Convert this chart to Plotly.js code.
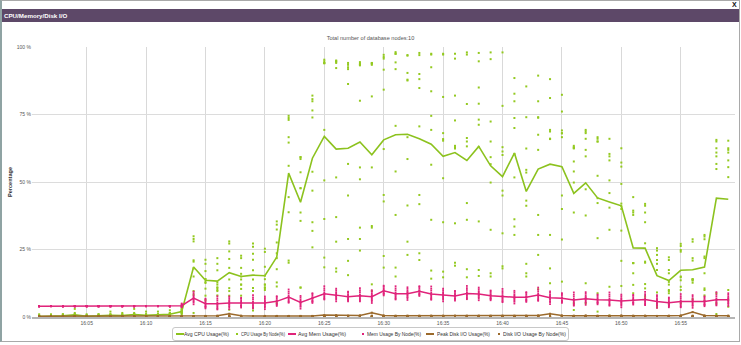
<!DOCTYPE html>
<html><head><meta charset="utf-8">
<script src="https://cdn.plot.ly/plotly-3.0.1.min.js"></script>
<style>
html,body{margin:0;padding:0;background:#fff;width:741px;height:345px;overflow:hidden;font-family:"Liberation Sans",Arial,sans-serif;}
#frame{position:absolute;left:0;top:0;width:737px;height:340px;border:1px solid #a9a9a9;border-left:2px solid #8fa3a3;}
#header{position:absolute;left:2px;top:9px;width:737px;height:13px;background:#5d4868;color:#fff;font-weight:bold;font-size:6.2px;line-height:13px;padding-left:2px;box-sizing:border-box;}
#close{position:absolute;left:732px;top:1px;font-size:7px;font-weight:bold;color:#111;}
#chart{position:absolute;left:0;top:0;width:741px;height:345px;}
#legend{position:absolute;left:172px;top:327px;width:397px;height:14px;border:1px solid #c8c8c8;border-radius:3px;box-sizing:border-box;background:#fff;}
.lt{position:absolute;top:0;font-size:5.4px;line-height:12px;color:#333;white-space:nowrap;transform-origin:0 50%;}
.ll{position:absolute;top:5px;height:2px;width:8px;}
.ld{position:absolute;top:5px;width:2px;height:2px;}
</style></head>
<body>
<div id="frame"></div>
<div id="header">CPU/Memory/Disk I/O</div>
<div id="close">X</div>
<div id="chart"></div>
<div id="legend"></div>
<script>
const times = ["16:01","16:02","16:03","16:04","16:05","16:06","16:07","16:08","16:09","16:10",
"16:11","16:12","16:13","16:14","16:15","16:16","16:17","16:18","16:19","16:20",
"16:21","16:22","16:23","16:24","16:25","16:26","16:27","16:28","16:29","16:30",
"16:31","16:32","16:33","16:34","16:35","16:36","16:37","16:38","16:39","16:40",
"16:41","16:42","16:43","16:44","16:45","16:46","16:47","16:48","16:49","16:50",
"16:51","16:52","16:53","16:54","16:55","16:56","16:57","16:58","16:59"];

const cpuAvg = [0.2,0.3,0.4,0.8,0.3,0.4,0.6,0.5,0.9,0.6,0.7,1.0,2.0,18.5,13.6,13.3,16.4,15.0,15.5,15.3,
22.2,53.3,42.5,58.8,66.9,62.2,62.5,64.8,60.1,65.6,67.5,67.7,66.0,64.0,59.5,60.9,58.0,63.2,56.0,52.0,
60.7,46.5,54.8,56.6,55.7,45.8,49.7,44.1,42.6,41.2,25.6,25.5,15.3,13.5,17.3,17.5,18.5,44.0,43.6];

const memAvg = [4.0,4.0,4.0,4.0,4.0,4.0,4.0,4.0,4.0,4.0,4.0,4.0,4.2,7.0,4.9,4.9,5.2,5.2,5.3,5.2,
5.8,7.4,5.4,6.9,8.6,8.1,7.5,7.9,7.5,9.7,8.6,8.6,9.5,8.5,8.1,7.8,8.7,8.5,7.9,7.6,
7.3,7.3,8.1,7.1,6.9,6.3,6.8,6.4,6.3,5.9,6.3,6.5,5.7,5.3,5.7,5.7,5.7,6.4,6.4];

const diskPeak = [0.3,0.3,0.3,0.4,0.3,0.3,0.3,0.3,0.3,0.3,0.3,0.3,0.3,0.4,0.4,0.5,1.2,0.5,0.4,0.4,
0.4,0.4,0.4,0.4,0.7,0.7,0.5,0.6,1.6,0.6,0.5,0.5,0.5,0.5,0.5,0.5,0.5,0.5,0.5,0.5,
0.5,0.5,0.6,1.2,0.6,0.5,0.6,0.5,0.5,0.6,0.5,0.5,0.4,0.5,0.6,1.8,0.6,0.5,0.5];

const cpuByNode = [
[0,0,0,0,0,0,0,0.5,0.5,1],
[0,0,0,0,0,0.5,0.5,0.5,0.5,1],
[0,0,0,0,0.5,0.5,0.5,0.5,1,1],
[0,0,0,0.5,0.5,0.5,1,1,1.5,3],
[0,0,0,0,0,0.5,0.5,0.5,0.5,1],
[0,0,0,0,0.5,0.5,0.5,0.5,1,1],
[0,0,0,0.5,0.5,0.5,0.5,1,1,2],
[0,0,0,0.5,0.5,0.5,0.5,0.5,1,1.5],
[0,0,0.5,0.5,0.5,1,1,1,1.5,3],
[0,0,0,0.5,0.5,0.5,0.5,1,1,2],
[0,0,0.5,0.5,0.5,0.5,1,1,1,2],
[0,0.5,0.5,0.5,1,1,1,1.5,1.5,2.5],
[0.5,1,1.5,1.5,2,2,2.5,2.5,3,3.5],
[29.9,28.9,28.0,21.0,20.5,18.0,15.0,9.6,8.3,1.5],
[21.2,19.7,17.0,14.0,14.0,13.0,12.6,10.5,7.9,6.2],
[21.8,19.7,17.3,12.8,12.0,11.0,10.7,10.0,9.6,8.0],
[28.0,27.2,24.3,21.5,18.2,13.9,10.7,9.6,7.9,2.7],
[22.7,21.8,18.2,16.0,15.0,13.9,12.0,12.0,10.4,7.9],
[27.2,26.0,23.4,21.2,17.3,13.9,10.7,9.6,3.3,2.4],
[25.3,24.1,18.6,15.3,14.0,12.0,12.0,11.0,10.7,10.0],
[35.4,34.2,32.4,27.6,23.6,21.8,17.7,12.8,11.3,5.2],
[74.5,73.7,73.0,66.6,64.6,56.0,44.4,38.8,20.9,20.1],
[59.2,59.2,58.5,53.6,47.7,47.7,38.7,35.6,10.9,10.9],
[82.0,80.7,79.9,76.5,73.9,53.8,46.8,35.1,31.9,25.8],
[95.3,94.7,94.1,94.0,94.0,69.3,50.6,36.3,22.0,18.4],
[95.0,94.7,94.6,94.1,92.2,51.7,37.0,27.9,18.0,16.8],
[94.1,93.4,92.5,91.8,86.3,56.7,45.0,28.9,20.8,15.5],
[94.4,93.8,93.5,93.2,80.1,55.4,51.0,33.1,28.9,24.6],
[94.1,94.0,93.8,93.4,81.7,55.4,33.7,33.1,12.1,9.7],
[97.1,96.3,95.7,91.6,84.2,62.2,45.2,42.8,22.6,18.3],
[98.1,97.5,97.5,94.3,91.8,70.8,53.9,37.8,18.3,15.0],
[97.0,96.8,90.4,87.9,87.6,66.6,58.5,41.3,27.9,23.0],
[97.8,97.0,90.0,88.1,84.8,70.6,45.2,41.8,23.6,21.1],
[97.5,97.2,92.5,83.6,74.5,69.3,56.4,36.0,17.2,14.2],
[97.5,97.2,81.5,68.1,65.9,65.3,51.4,35.1,16.8,14.7],
[97.5,95.7,82.0,72.8,63.4,62.9,62.4,34.7,20.1,19.0],
[98.0,97.2,78.9,66.3,65.0,63.2,42.2,36.0,17.7,14.7],
[97.8,94.7,85.0,79.0,73.1,71.2,62.9,35.4,17.4,15.2],
[98.0,95.5,72.4,65.0,59.2,56.6,49.8,32.3,16.2,15.0],
[98.0,78.2,62.9,61.3,60.0,46.8,45.0,31.0,18.8,18.0],
[88.5,82.7,79.9,73.7,70.0,60.4,51.7,36.2,33.5,30.4],
[85.4,74.0,62.4,54.5,53.5,43.1,41.2,19.7,16.2,15.0],
[89.4,79.9,74.0,73.8,67.5,61.9,37.8,30.4,23.0,10.3],
[88.1,81.1,69.3,68.7,66.0,66.0,65.9,30.4,18.0,12.5],
[82.3,76.1,69.1,68.1,68.0,66.6,45.0,40.0,28.7,13.1],
[63.4,62.9,62.5,62.5,57.6,53.9,49.8,38.7,5.1,2.6],
[69.3,68.7,68.1,66.0,61.9,59.5,47.3,37.6,12.5,5.1],
[66.6,66.0,65.0,65.0,52.3,44.0,42.2,29.2,8.8,2.0],
[66.0,60.4,59.5,58.0,50.6,45.9,40.5,32.3,11.2,0.5],
[62.5,57.2,55.7,49.3,42.0,41.0,40.0,32.0,20.8,11.5],
[44.4,39.4,38.7,37.8,20.0,20.0,19.9,16.2,11.9,8.8],
[41.9,41.2,38.7,35.1,27.3,20.5,20.1,12.2,10.6,7.5],
[25.5,24.6,23.0,21.1,19.7,17.4,9.1,5.1,4.0,3.5],
[22.1,21.1,17.4,16.2,13.0,12.0,10.0,9.6,8.8,4.8],
[27.1,26.3,24.8,24.2,15.0,14.7,13.6,11.2,10.0,5.1],
[28.8,27.9,21.8,20.9,14.0,14.0,13.8,13.5,12.7,6.6],
[30.4,29.8,28.8,22.4,21.8,16.2,10.6,10.0,8.0,6.0],
[65.6,65.0,62.5,60.9,59.5,56.7,54.8,8.8,5.1,1.1],
[65.3,62.5,61.9,60.9,58.0,55.5,51.8,10.0,6.3,3.8]];

const memByNode = [
[4.1,4.0,4.0,4.0,4.0,4.0,4.0,4.0,3.9,3.9],
[4.1,4.0,4.0,4.0,4.0,4.0,4.0,4.0,3.9,3.9],
[4.1,4.0,4.0,4.0,4.0,4.0,4.0,4.0,3.9,3.9],
[4.1,4.0,4.0,4.0,4.0,4.0,4.0,4.0,3.9,3.9],
[4.1,4.0,4.0,4.0,4.0,4.0,4.0,4.0,3.9,3.9],
[4.1,4.0,4.0,4.0,4.0,4.0,4.0,4.0,3.9,3.9],
[4.1,4.0,4.0,4.0,4.0,4.0,4.0,4.0,3.9,3.9],
[4.1,4.0,4.0,4.0,4.0,4.0,4.0,4.0,3.9,3.9],
[4.1,4.0,4.0,4.0,4.0,4.0,4.0,4.0,3.9,3.9],
[4.1,4.0,4.0,4.0,4.0,4.0,4.0,4.0,3.9,3.9],
[4.1,4.0,4.0,4.0,4.0,4.0,4.0,4.0,3.9,3.9],
[4.1,4.0,4.0,4.0,4.0,4.0,4.0,4.0,3.9,3.9],
[5.0,4.8,4.5,4.3,4.2,4.1,4.0,3.8,3.7,3.6],
[9.4,8.8,8.1,7.6,7.2,6.7,6.3,5.8,5.4,4.7],
[6.8,6.5,5.9,5.3,5.0,4.7,4.1,3.9,3.6,3.2],
[7.7,6.9,6.2,5.4,4.9,4.5,4.0,3.5,3.1,2.8],
[7.6,7.0,6.3,5.8,5.4,4.9,4.5,4.0,3.6,2.9],
[7.1,6.8,6.2,5.6,5.3,5.0,4.4,4.2,3.9,3.5],
[8.1,7.3,6.6,5.8,5.3,4.9,4.4,3.9,3.5,3.2],
[7.6,7.0,6.3,5.8,5.4,4.9,4.5,4.0,3.6,2.9],
[7.7,7.4,6.8,6.2,5.9,5.6,5.0,4.8,4.5,4.1],
[10.2,9.4,8.7,7.9,7.4,7.0,6.5,6.0,5.6,5.3],
[7.8,7.2,6.5,6.0,5.6,5.1,4.7,4.2,3.8,3.1],
[8.8,8.5,7.9,7.3,7.0,6.7,6.1,5.9,5.6,5.2],
[11.4,10.6,9.9,9.1,8.6,8.2,7.7,7.2,6.8,6.5],
[10.5,9.9,9.2,8.7,8.3,7.8,7.4,6.9,6.5,5.8],
[9.4,9.1,8.5,7.9,7.6,7.3,6.7,6.5,6.2,5.8],
[10.7,9.9,9.2,8.4,7.9,7.5,7.0,6.5,6.1,5.8],
[9.9,9.3,8.6,8.1,7.7,7.2,6.8,6.3,5.9,5.2],
[11.6,11.3,10.7,10.1,9.8,9.5,8.9,8.7,8.4,8.0],
[11.4,10.6,9.9,9.1,8.6,8.2,7.7,7.2,6.8,6.5],
[11.0,10.4,9.7,9.2,8.8,8.3,7.9,7.4,7.0,6.3],
[11.4,11.1,10.5,9.9,9.6,9.3,8.7,8.5,8.2,7.8],
[11.3,10.5,9.8,9.0,8.5,8.1,7.6,7.1,6.7,6.4],
[10.5,9.9,9.2,8.7,8.3,7.8,7.4,6.9,6.5,5.8],
[9.7,9.4,8.8,8.2,7.9,7.6,7.0,6.8,6.5,6.1],
[11.5,10.7,10.0,9.2,8.7,8.3,7.8,7.3,6.9,6.6],
[10.9,10.3,9.6,9.1,8.7,8.2,7.8,7.3,6.9,6.2],
[9.8,9.5,8.9,8.3,8.0,7.7,7.1,6.9,6.6,6.2],
[10.4,9.6,8.9,8.1,7.6,7.2,6.7,6.2,5.8,5.5],
[9.7,9.1,8.4,7.9,7.5,7.0,6.6,6.1,5.7,5.0],
[9.2,8.9,8.3,7.7,7.4,7.1,6.5,6.3,6.0,5.6],
[10.9,10.1,9.4,8.6,8.1,7.7,7.2,6.7,6.3,6.0],
[9.5,8.9,8.2,7.7,7.3,6.8,6.4,5.9,5.5,4.8],
[8.8,8.5,7.9,7.3,7.0,6.7,6.1,5.9,5.6,5.2],
[9.1,8.3,7.6,6.8,6.3,5.9,5.4,4.9,4.5,4.2],
[9.2,8.6,7.9,7.4,7.0,6.5,6.1,5.6,5.2,4.5],
[8.3,8.0,7.4,6.8,6.5,6.2,5.6,5.4,5.1,4.7],
[9.1,8.3,7.6,6.8,6.3,5.9,5.4,4.9,4.5,4.2],
[8.3,7.7,7.0,6.5,6.1,5.6,5.2,4.7,4.3,3.6],
[8.2,7.9,7.3,6.7,6.4,6.1,5.5,5.3,5.0,4.6],
[9.3,8.5,7.8,7.0,6.5,6.1,5.6,5.1,4.7,4.4],
[8.1,7.5,6.8,6.3,5.9,5.4,5.0,4.5,4.1,3.4],
[7.2,6.9,6.3,5.7,5.4,5.1,4.5,4.3,4.0,3.6],
[8.5,7.7,7.0,6.2,5.7,5.3,4.8,4.3,3.9,3.6],
[8.1,7.5,6.8,6.3,5.9,5.4,5.0,4.5,4.1,3.4],
[7.6,7.3,6.7,6.1,5.8,5.5,4.9,4.7,4.4,4.0],
[9.2,8.4,7.7,6.9,6.4,6.0,5.5,5.0,4.6,4.3],
[8.8,8.2,7.5,7.0,6.6,6.1,5.7,5.2,4.8,4.1]];

const diskByNode = [
[0.3,0.2,0.2,0.1,0.1,0.1,0,0,0,0],
[0.3,0.2,0.2,0.1,0.1,0.1,0,0,0,0],
[0.3,0.2,0.1,0.1,0.1,0.1,0,0,0,0],
[0.4,0.3,0.2,0.1,0.1,0.1,0,0,0,0],
[0.3,0.2,0.2,0.1,0.1,0,0,0,0,0],
[0.3,0.2,0.1,0.1,0.1,0.1,0,0,0,0],
[0.3,0.2,0.2,0.1,0.1,0,0,0,0,0],
[0.3,0.2,0.1,0.1,0.1,0.1,0,0,0,0],
[0.3,0.2,0.2,0.1,0.1,0,0,0,0,0],
[0.3,0.2,0.1,0.1,0.1,0.1,0,0,0,0],
[0.3,0.2,0.2,0.1,0.1,0,0,0,0,0],
[0.3,0.2,0.1,0.1,0.1,0.1,0,0,0,0],
[0.3,0.2,0.2,0.1,0.1,0,0,0,0,0],
[0.4,0.3,0.2,0.2,0.1,0.1,0,0,0,0],
[0.4,0.3,0.2,0.1,0.1,0.1,0,0,0,0],
[0.5,0.3,0.2,0.2,0.1,0.1,0.1,0,0,0],
[1.2,0.4,0.3,0.2,0.2,0.1,0.1,0,0,0],
[0.5,0.3,0.2,0.2,0.1,0.1,0,0,0,0],
[0.4,0.3,0.2,0.1,0.1,0.1,0,0,0,0],
[0.4,0.3,0.2,0.2,0.1,0.1,0,0,0,0],
[0.4,0.3,0.2,0.1,0.1,0.1,0,0,0,0],
[0.4,0.3,0.2,0.2,0.1,0.1,0,0,0,0],
[0.4,0.3,0.2,0.1,0.1,0.1,0,0,0,0],
[0.4,0.3,0.2,0.2,0.1,0.1,0,0,0,0],
[0.7,0.4,0.3,0.2,0.2,0.1,0.1,0,0,0],
[0.7,0.4,0.3,0.2,0.1,0.1,0.1,0,0,0],
[0.5,0.3,0.2,0.2,0.1,0.1,0,0,0,0],
[0.6,0.4,0.3,0.2,0.1,0.1,0,0,0,0],
[1.6,0.5,0.3,0.2,0.2,0.1,0.1,0,0,0],
[0.6,0.4,0.3,0.2,0.1,0.1,0,0,0,0],
[0.5,0.3,0.2,0.2,0.1,0.1,0,0,0,0],
[0.5,0.4,0.3,0.2,0.1,0.1,0,0,0,0],
[0.5,0.3,0.2,0.2,0.1,0.1,0,0,0,0],
[0.5,0.4,0.3,0.2,0.1,0.1,0,0,0,0],
[0.5,0.3,0.2,0.2,0.1,0.1,0,0,0,0],
[0.5,0.4,0.3,0.2,0.1,0.1,0,0,0,0],
[0.5,0.3,0.2,0.2,0.1,0.1,0,0,0,0],
[0.5,0.4,0.3,0.2,0.1,0.1,0,0,0,0],
[0.5,0.3,0.2,0.2,0.1,0.1,0,0,0,0],
[0.5,0.4,0.3,0.2,0.1,0.1,0,0,0,0],
[0.5,0.3,0.2,0.2,0.1,0.1,0,0,0,0],
[0.5,0.4,0.3,0.2,0.1,0.1,0,0,0,0],
[0.6,0.4,0.3,0.2,0.1,0.1,0,0,0,0],
[1.2,0.5,0.3,0.2,0.2,0.1,0.1,0,0,0],
[0.6,0.4,0.3,0.2,0.1,0.1,0,0,0,0],
[0.5,0.3,0.2,0.2,0.1,0.1,0,0,0,0],
[0.6,0.4,0.3,0.2,0.1,0.1,0,0,0,0],
[0.5,0.3,0.2,0.2,0.1,0.1,0,0,0,0],
[0.5,0.4,0.3,0.2,0.1,0.1,0,0,0,0],
[0.6,0.4,0.2,0.2,0.1,0.1,0,0,0,0],
[0.5,0.3,0.2,0.2,0.1,0.1,0,0,0,0],
[0.5,0.4,0.3,0.2,0.1,0.1,0,0,0,0],
[0.4,0.3,0.2,0.1,0.1,0.1,0,0,0,0],
[0.5,0.3,0.2,0.2,0.1,0.1,0,0,0,0],
[0.6,0.4,0.3,0.2,0.1,0.1,0,0,0,0],
[1.8,0.5,0.3,0.2,0.2,0.1,0.1,0,0,0],
[0.6,0.4,0.3,0.2,0.1,0.1,0,0,0,0],
[0.5,0.3,0.2,0.2,0.1,0.1,0,0,0,0],
[0.5,0.4,0.3,0.2,0.1,0.1,0,0,0,0]];

const seriesNames = ["Avg CPU Usage(%)","CPU Usage By Node(%)","Avg Mem Usage(%)","Mem Usage By Node(%)","Peak Disk I/O Usage(%)","Disk I/O Usage By Node(%)"];
const yTickVals = [0,25,50,75,100];
const yTickText = ["0 %","25 %","50 %","75 %","100 %"];

const GREEN = '#8cc21e', DOTGREEN = '#93c91f', PINK = '#e0237a', BROWN = '#9b6a2c';
const day = '2000-01-01 ';
const xs = times.map(t => day + t);

function flatten(rows){
  const x = [], y = [];
  rows.forEach((r,i) => r.forEach(v => { x.push(xs[i]); y.push(v); }));
  return {x, y};
}
const cpuPts = flatten(cpuByNode), memPts = flatten(memByNode), diskPts = flatten(diskByNode);

const traces = [
  {x: xs, y: cpuAvg, name: seriesNames[0], type:'scatter', mode:'lines', line:{color:GREEN, width:1.6}, hoverinfo:'skip'},
  {x: cpuPts.x, y: cpuPts.y, name: seriesNames[1], type:'scatter', mode:'markers', marker:{color:DOTGREEN, size:2, symbol:'square'}, hoverinfo:'skip'},
  {x: xs, y: memAvg, name: seriesNames[2], type:'scatter', mode:'lines', line:{color:PINK, width:1.5}, hoverinfo:'skip'},
  {x: memPts.x, y: memPts.y, name: seriesNames[3], type:'scatter', mode:'markers', marker:{color:PINK, size:1.8, symbol:'square'}, hoverinfo:'skip'},
  {x: xs, y: diskPeak, name: seriesNames[4], type:'scatter', mode:'lines', line:{color:BROWN, width:1.5}, hoverinfo:'skip'},
  {x: diskPts.x, y: diskPts.y, name: seriesNames[5], type:'scatter', mode:'markers', marker:{color:BROWN, size:2, symbol:'square'}, hoverinfo:'skip'}
];

const FONT = '"Liberation Sans", Arial, sans-serif';
const layout = {
  width: 741, height: 345,
  margin: {l:32, r:6, t:47, b:28},
  paper_bgcolor: 'rgba(0,0,0,0)', plot_bgcolor: 'rgba(0,0,0,0)',
  showlegend: false,
  font: {family: FONT, size: 5, color: '#555'},
  title: {text: 'Total number of database nodes:10', x: 0.5, xref: 'container', xanchor: 'center',
          y: 1 - 38/345, yref: 'container', yanchor: 'middle', font: {family: FONT, size: 5.6, color: '#555'}},
  xaxis: {type: 'date', range: [day + '16:00:24', day + '16:59:34'], tick0: day + '16:00', dtick: 300000,
          tickformat: '%H:%M', showgrid: true, gridcolor: '#d9d9d9', gridwidth: 1, showline: true,
          linecolor: '#b5b5b5', linewidth: 2, ticks: '', zeroline: false, tickfont: {family: FONT, size: 5, color: '#555'},
          fixedrange: true},
  yaxis: {range: [0, 100], tickvals: yTickVals, ticktext: yTickText, showgrid: true, gridcolor: '#dcdcdc',
          zeroline: false, showline: false, ticks: '', tickfont: {family: FONT, size: 5, color: '#555'},
          title: {text: '<b>Percentage</b>', font: {family: FONT, size: 5.6, color: '#333'}, standoff: 3},
          fixedrange: true}
};

Plotly.newPlot('chart', traces, layout, {staticPlot: true, displayModeBar: false});

// HTML legend built from series names/colours
const legendItems = [
  {kind:'line', color:GREEN, sym:3, txt:11, w:45},
  {kind:'dot', color:DOTGREEN, sym:63, txt:68, w:44},
  {kind:'line', color:PINK, sym:115, txt:125, w:52},
  {kind:'dot', color:PINK, sym:189, txt:194, w:54},
  {kind:'line', color:BROWN, sym:253, txt:264, w:53},
  {kind:'dot', color:BROWN, sym:325, txt:330, w:63}
];
const leg = document.getElementById('legend');
legendItems.forEach((it, i) => {
  const s = document.createElement('div');
  s.className = it.kind === 'line' ? 'll' : 'ld';
  s.style.left = it.sym + 'px';
  s.style.background = it.color;
  leg.appendChild(s);
  const t = document.createElement('div');
  t.className = 'lt';
  t.style.left = it.txt + 'px';
  t.textContent = seriesNames[i];
  leg.appendChild(t);
  const nat = t.getBoundingClientRect().width;
  if (nat > it.w) t.style.transform = 'scaleX(' + (it.w / nat).toFixed(3) + ')';
});
</script>
</body></html>
